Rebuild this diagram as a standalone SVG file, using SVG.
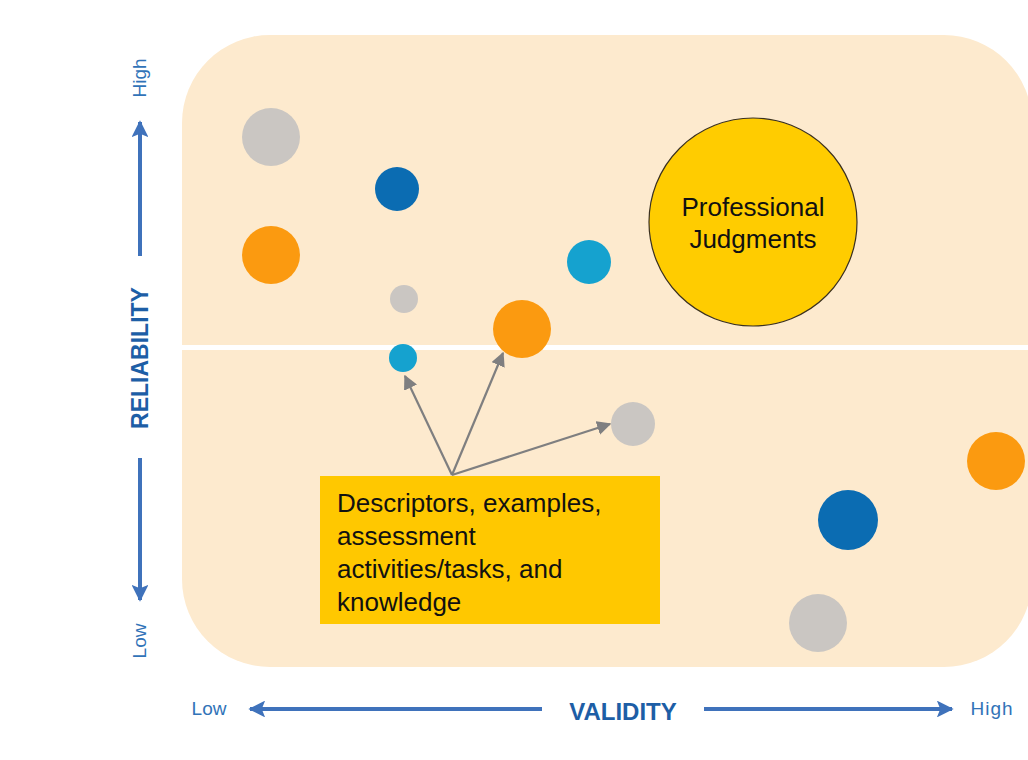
<svg xmlns="http://www.w3.org/2000/svg" width="1028" height="760" viewBox="0 0 1028 760">
  <defs>
    <marker id="gray-arrow" viewBox="0 0 10 10" refX="9" refY="5" markerWidth="6.5" markerHeight="6.5" orient="auto" markerUnits="strokeWidth">
      <path d="M0,0 L10,5 L0,10 z" fill="#7f7f80"/>
    </marker>
    <marker id="blue-arrow" viewBox="0 0 10 10" refX="9" refY="5" markerWidth="4.2" markerHeight="4.2" orient="auto" markerUnits="strokeWidth">
      <path d="M0,0 L10,5 L0,10 L2,5 z" fill="#3f72bb"/>
    </marker>
  </defs>
  <style>
    .gray { fill: #cac6c2; }
    .dblue { fill: #0b6cb2; }
    .orange { fill: #fb9a10; }
    .lblue { fill: #15a2cf; }
    .label { font-family: "Liberation Sans", Arial, sans-serif; fill: #111; }
    .axis-title { font-family: "Liberation Sans", Arial, sans-serif; font-weight: bold; fill: #1d5ea6; }
    .axis-end { font-family: "Liberation Sans", Arial, sans-serif; fill: #3173b8; }
    .axis-line { stroke: #3f72bb; stroke-width: 4; fill: none; }
    .conn { stroke: #7f7f80; stroke-width: 2.2; fill: none; }
  </style>

  <rect width="1028" height="760" fill="#ffffff"/>

  <g id="background">
    <rect x="182" y="35" width="850" height="632" rx="88" ry="88" fill="#fdeace"/>
    <rect x="182" y="345" width="846" height="5" fill="#ffffff"/>
  </g>

  <g id="dots">
    <circle id="dot-gray-1" class="gray" cx="271" cy="137" r="29"/>
    <circle id="dot-dblue-1" class="dblue" cx="397" cy="189" r="22"/>
    <circle id="dot-orange-1" class="orange" cx="271" cy="255" r="29"/>
    <circle id="dot-lblue-1" class="lblue" cx="589" cy="262" r="22"/>
    <circle id="dot-gray-2" class="gray" cx="404" cy="299" r="14"/>
    <circle id="dot-orange-2" class="orange" cx="522" cy="329" r="29"/>
    <circle id="dot-lblue-2" class="lblue" cx="403" cy="358" r="14"/>
    <circle id="dot-gray-3" class="gray" cx="633" cy="424" r="22"/>
    <circle id="dot-orange-3" class="orange" cx="996" cy="461" r="29"/>
    <circle id="dot-dblue-2" class="dblue" cx="848" cy="520" r="30"/>
    <circle id="dot-gray-4" class="gray" cx="818" cy="623" r="29"/>
  </g>

  <g id="professional-judgments">
    <circle cx="753" cy="222" r="104" fill="#ffcc00" stroke="#3a3020" stroke-width="1.2"/>
    <text class="label" x="753" y="216" font-size="26" text-anchor="middle">Professional</text>
    <text class="label" x="753" y="248" font-size="26" text-anchor="middle">Judgments</text>
  </g>

  <g id="connectors">
    <line class="conn" x1="452" y1="475" x2="405" y2="376" marker-end="url(#gray-arrow)"/>
    <line class="conn" x1="452" y1="475" x2="503" y2="353" marker-end="url(#gray-arrow)"/>
    <line class="conn" x1="452" y1="475" x2="610" y2="424" marker-end="url(#gray-arrow)"/>
  </g>

  <g id="descriptors">
    <rect x="320" y="476" width="340" height="148" fill="#ffc800"/>
    <text class="label" x="337" y="512" font-size="26">Descriptors, examples,</text>
    <text class="label" x="337" y="545" font-size="26">assessment</text>
    <text class="label" x="337" y="578" font-size="26">activities/tasks, and</text>
    <text class="label" x="337" y="611" font-size="26">knowledge</text>
  </g>

  <g id="reliability-axis">
    <line class="axis-line" x1="140" y1="256" x2="140" y2="122" marker-end="url(#blue-arrow)"/>
    <line class="axis-line" x1="140" y1="458" x2="140" y2="600" marker-end="url(#blue-arrow)"/>
    <text class="axis-title" font-size="23" text-anchor="middle" transform="translate(148,358) rotate(-90)">RELIABILITY</text>
    <text class="axis-end" font-size="19" text-anchor="middle" transform="translate(146,78) rotate(-90)">High</text>
    <text class="axis-end" font-size="19" text-anchor="middle" transform="translate(146,641) rotate(-90)">Low</text>
  </g>

  <g id="validity-axis">
    <line class="axis-line" x1="542" y1="709" x2="250" y2="709" marker-end="url(#blue-arrow)"/>
    <line class="axis-line" x1="704" y1="709" x2="952" y2="709" marker-end="url(#blue-arrow)"/>
    <text class="axis-title" x="623" y="720" font-size="24" text-anchor="middle">VALIDITY</text>
    <text class="axis-end" x="209" y="715" font-size="19" text-anchor="middle">Low</text>
    <text class="axis-end" x="992" y="715" font-size="19" text-anchor="middle" letter-spacing="1">High</text>
  </g>
</svg>
